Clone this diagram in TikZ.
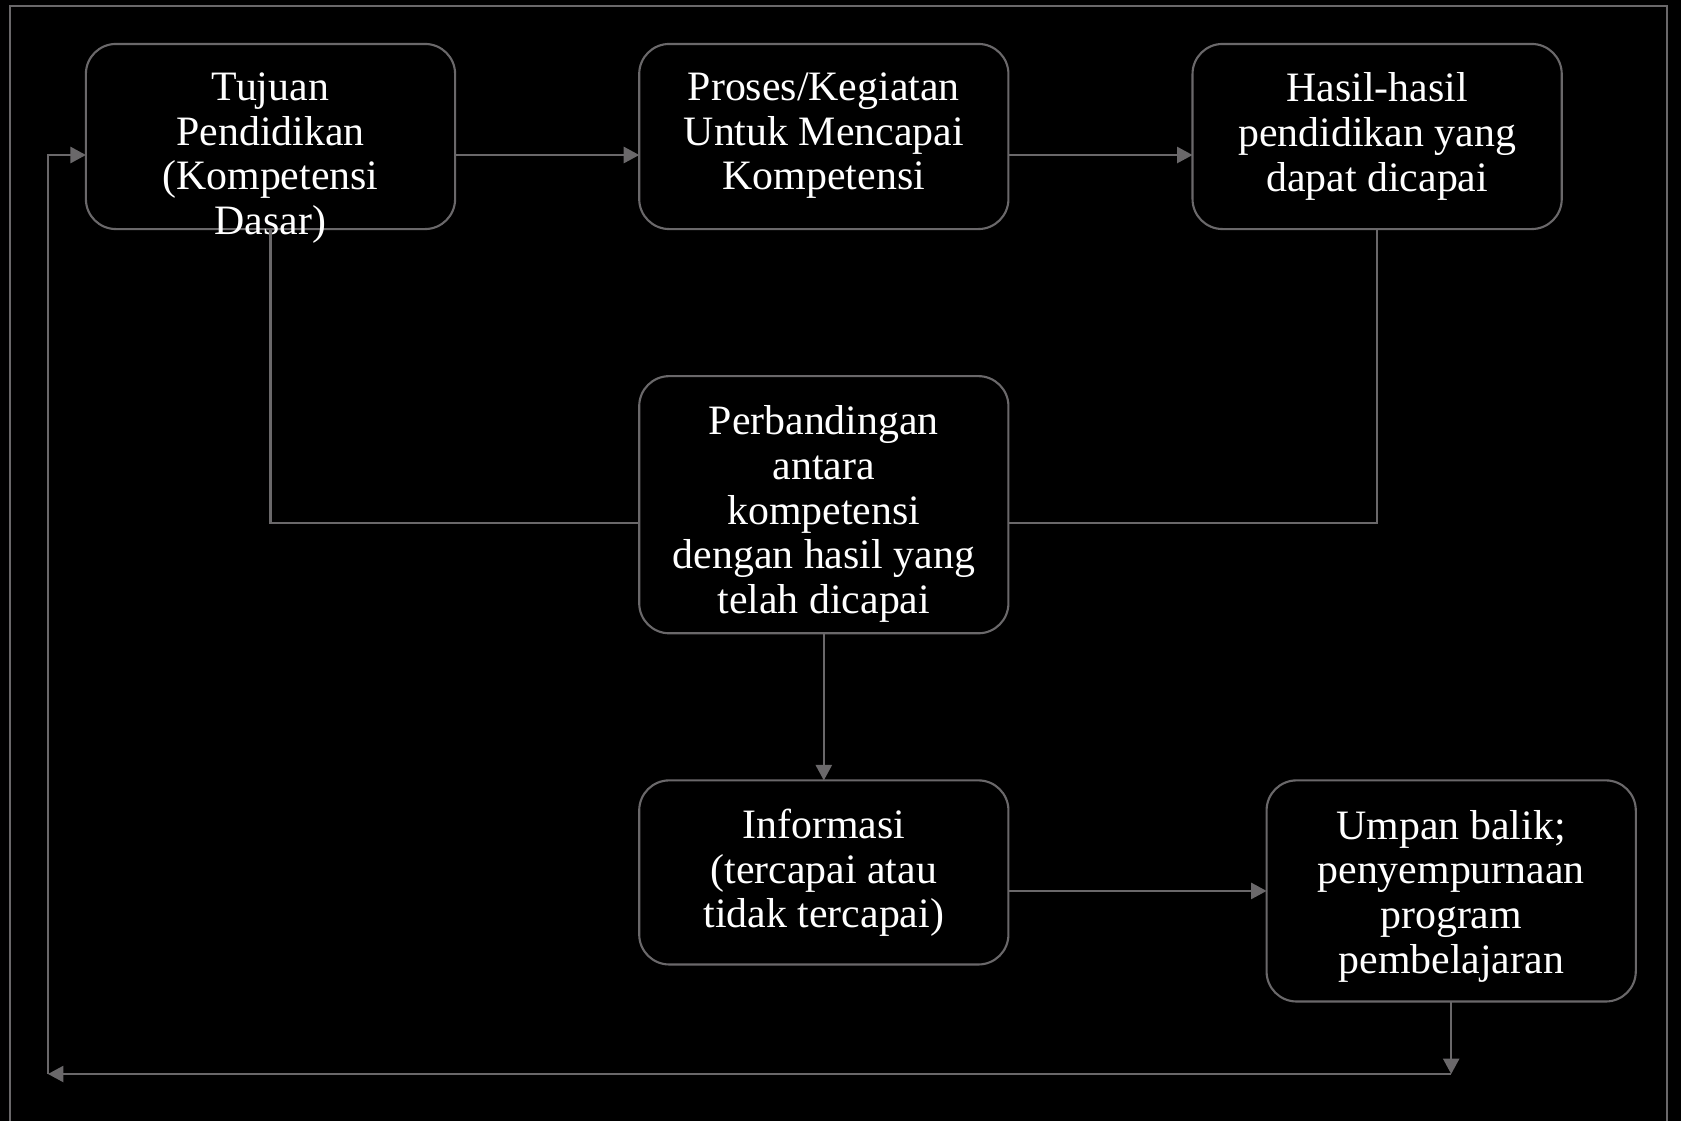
\documentclass[tikz,border=0pt]{standalone}
\usepackage{fontspec}
\setmainfont{Liberation Serif}
\usetikzlibrary{arrows.meta, positioning}
\definecolor{evalgrey}{HTML}{6A686A}
\definecolor{evalbg}{HTML}{000000}
\tikzset{
  node distance=1.47cm and 1.84cm,
  >={Triangle[length=4.4pt, width=4.6pt]},
  box/.style={rectangle, rounded corners=0.3cm, draw=evalgrey, line width=0.6pt,
              minimum width=3.69cm, minimum height=1.85cm, inner sep=0pt, outer sep=0pt},
  txt/.style={align=center, inner sep=0pt, text=white,
              font=\fontsize{11.9}{12.7}\selectfont},
  flow/.style={->, line width=0.6pt, draw=evalgrey},
  link/.style={line width=0.6pt, draw=evalgrey},
  frame/.style={line width=0.6pt, draw=evalgrey},
}

\begin{document}
\begin{tikzpicture}[x=0.01cm, y=-0.01cm]
  \fill[evalbg] (0,0) rectangle (1681,1121);
  \useasboundingbox (0,0) rectangle (1681,1121);
  \draw[frame] (10,1121) -- (10,6) -- (1667,6) -- (1667,1121);

  % boxes
  \node[box] (tujuan) at (270.5,136.5) {};
  \node[box, right=of tujuan] (proses) {};
  \node[box, right=of proses] (hasil) {};
  \node[box, below=of proses, minimum height=2.57cm] (banding) {};
  \node[box, below=of banding, minimum height=1.84cm] (info) {};
  \node[box, minimum height=2.21cm, anchor=north west] (umpan)
    at ([xshift=2.58cm]info.north east) {};

  % texts
  \node[txt, below=0.28cm of tujuan.north] (tujuantxt)
    {Tujuan\\Pendidikan\\(Kompetensi\\Dasar)};
  \node[txt, below=0.28cm of proses.north] (prosestxt)
    {Proses/Kegiatan\\Untuk Mencapai\\Kompetensi};
  \node[txt, below=0.28cm of hasil.north] (hasiltxt)
    {Hasil-hasil\\pendidikan yang\\dapat dicapai};
  \node[txt, below=0.29cm of banding.north] (bandingtxt)
    {Perbandingan\\antara\\kompetensi\\dengan hasil yang\\telah dicapai};
  \node[txt, below=0.28cm of info.north] (infotxt)
    {Informasi\\(tercapai atau\\tidak tercapai)};
  \node[txt, below=0.29cm of umpan.north] (umpantxt)
    {Umpan balik;\\penyempurnaan\\program\\pembelajaran};

  % connectors
  \coordinate (fbl) at (48,1074);
  \coordinate (fbr) at (umpan.south |- fbl);
  \draw[flow] ([yshift=-0.185cm]tujuan.east) -- ([yshift=-0.185cm]proses.west);
  \draw[flow] ([yshift=-0.185cm]proses.east) -- ([yshift=-0.185cm]hasil.west);
  \draw[link] (tujuan.south) |- ([yshift=-0.185cm]banding.west);
  \draw[link] (hasil.south) |- ([yshift=-0.185cm]banding.east);
  \draw[flow] (banding.south) -- (info.north);
  \draw[flow] ([yshift=-0.185cm]info.east) -- ([yshift=-0.185cm]info.east -| umpan.west);
  \draw[flow] (umpan.south) -- (fbr);
  \draw[flow] (fbr) -- (fbl);
  \draw[flow] (fbl) |- ([yshift=-0.185cm]tujuan.west);
\end{tikzpicture}
\end{document}
